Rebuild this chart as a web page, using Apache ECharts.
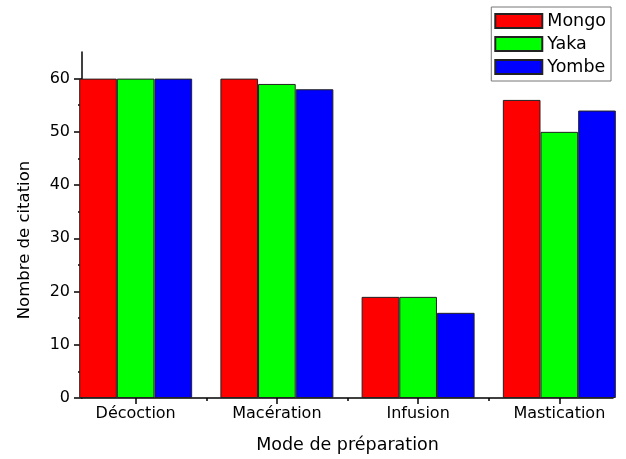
<!DOCTYPE html>
<html>
<head>
<meta charset="utf-8">
<script src="https://cdn.jsdelivr.net/npm/echarts@6/dist/echarts.min.js"></script>
<style>
  html, body { margin: 0; padding: 0; background: #fff; }
  #chart { width: 626px; height: 459px; }
</style>
</head>
<body>
<div id="chart"></div>
<script>
const categories = ["Décoction", "Macération", "Infusion", "Mastication"];
const mongo = [60, 60, 19, 56];
const yaka = [60, 59, 19, 50];
const yombe = [60, 58, 16, 54];
const yTicks = [0, 10, 20, 30, 40, 50, 60];
const yMinorTicks = [5, 15, 25, 35, 45, 55];

const xPos = categories.map((c, i) => i + 1);
const xMinorTicks = [1.5, 2.5, 3.5];
// la police de l'original est plus large que Arial -> DejaVu Sans
const FONT = "DejaVu Sans, sans-serif";

const chart = echarts.init(document.getElementById("chart"));

const toPairs = (arr) => arr.map((v, i) => [xPos[i], v]);

const barSeries = (name, data, color) => ({
  name,
  type: "bar",
  data: toPairs(data),
  xAxisIndex: 0,
  yAxisIndex: 0,
  barGap: "0%",
  barCategoryGap: "20%",
  itemStyle: { color, borderColor: "#222", borderWidth: 1 },
});

const option = {
  animation: false,
  textStyle: { fontFamily: FONT },
  grid: { left: 82, right: 13, top: 52, bottom: 60, containLabel: false },
  legend: {
    orient: "vertical",
    right: 15,
    top: 7,
    icon: "rect",
    itemWidth: 47,
    itemHeight: 14,
    itemGap: 3,
    padding: [4, 5, 4, 3],
    borderColor: "#777",
    borderWidth: 1,
    backgroundColor: "#fff",
    textStyle: { fontFamily: FONT, fontSize: 17.5, color: "#000", lineHeight: 20 },
    data: ["Mongo", "Yaka", "Yombe"],
  },
  xAxis: [
    {
      type: "value",
      min: 0.62,
      max: 4.38,
      position: "bottom",
      name: "Mode de préparation",
      nameLocation: "middle",
      nameGap: 38,
      nameTextStyle: { fontFamily: FONT, fontSize: 17.5, color: "#000" },
      axisLine: { show: true, onZero: false, lineStyle: { color: "#000", width: 1.5 } },
      axisTick: { show: true, inside: false, length: 6, customValues: xPos, lineStyle: { color: "#000", width: 1.5 } },
      axisLabel: {
        customValues: xPos,
        margin: 8,
        fontFamily: FONT,
        fontSize: 16,
        color: "#000",
        formatter: (v) => categories[Math.round(v) - 1] || "",
      },
      splitLine: { show: false },
    },
    {
      type: "value",
      min: 0.62,
      max: 4.38,
      position: "bottom",
      offset: 0,
      axisLine: { show: false, onZero: false },
      axisTick: { show: true, inside: false, length: 3, customValues: xMinorTicks, lineStyle: { color: "#000", width: 1.5 } },
      axisLabel: { show: false },
      splitLine: { show: false },
    },
  ],
  yAxis: [
    {
      type: "value",
      min: 0,
      max: 65,
      position: "left",
      name: "Nombre de citation",
      nameLocation: "middle",
      nameGap: 49,
      nameTextStyle: { fontFamily: FONT, fontSize: 16.5, color: "#000", padding: [0, 30, 0, 0] },
      axisLine: { show: true, onZero: false, lineStyle: { color: "#000", width: 1.5 } },
      axisTick: { show: true, inside: false, length: 8, customValues: yTicks, lineStyle: { color: "#000", width: 1.5 } },
      axisLabel: { customValues: yTicks, margin: 12, fontFamily: FONT, fontSize: 16, color: "#000" },
      splitLine: { show: false },
    },
    {
      type: "value",
      min: 0,
      max: 65,
      position: "left",
      offset: 0,
      axisLine: { show: false, onZero: false },
      axisTick: { show: true, inside: false, length: 4, customValues: yMinorTicks, lineStyle: { color: "#000", width: 1.5 } },
      axisLabel: { show: false },
      splitLine: { show: false },
    },
  ],
  series: [
    barSeries("Mongo", mongo, "#ff0000"),
    barSeries("Yaka", yaka, "#00ff00"),
    barSeries("Yombe", yombe, "#0000ff"),
  ],
};

chart.setOption(option);
</script>
</body>
</html>
